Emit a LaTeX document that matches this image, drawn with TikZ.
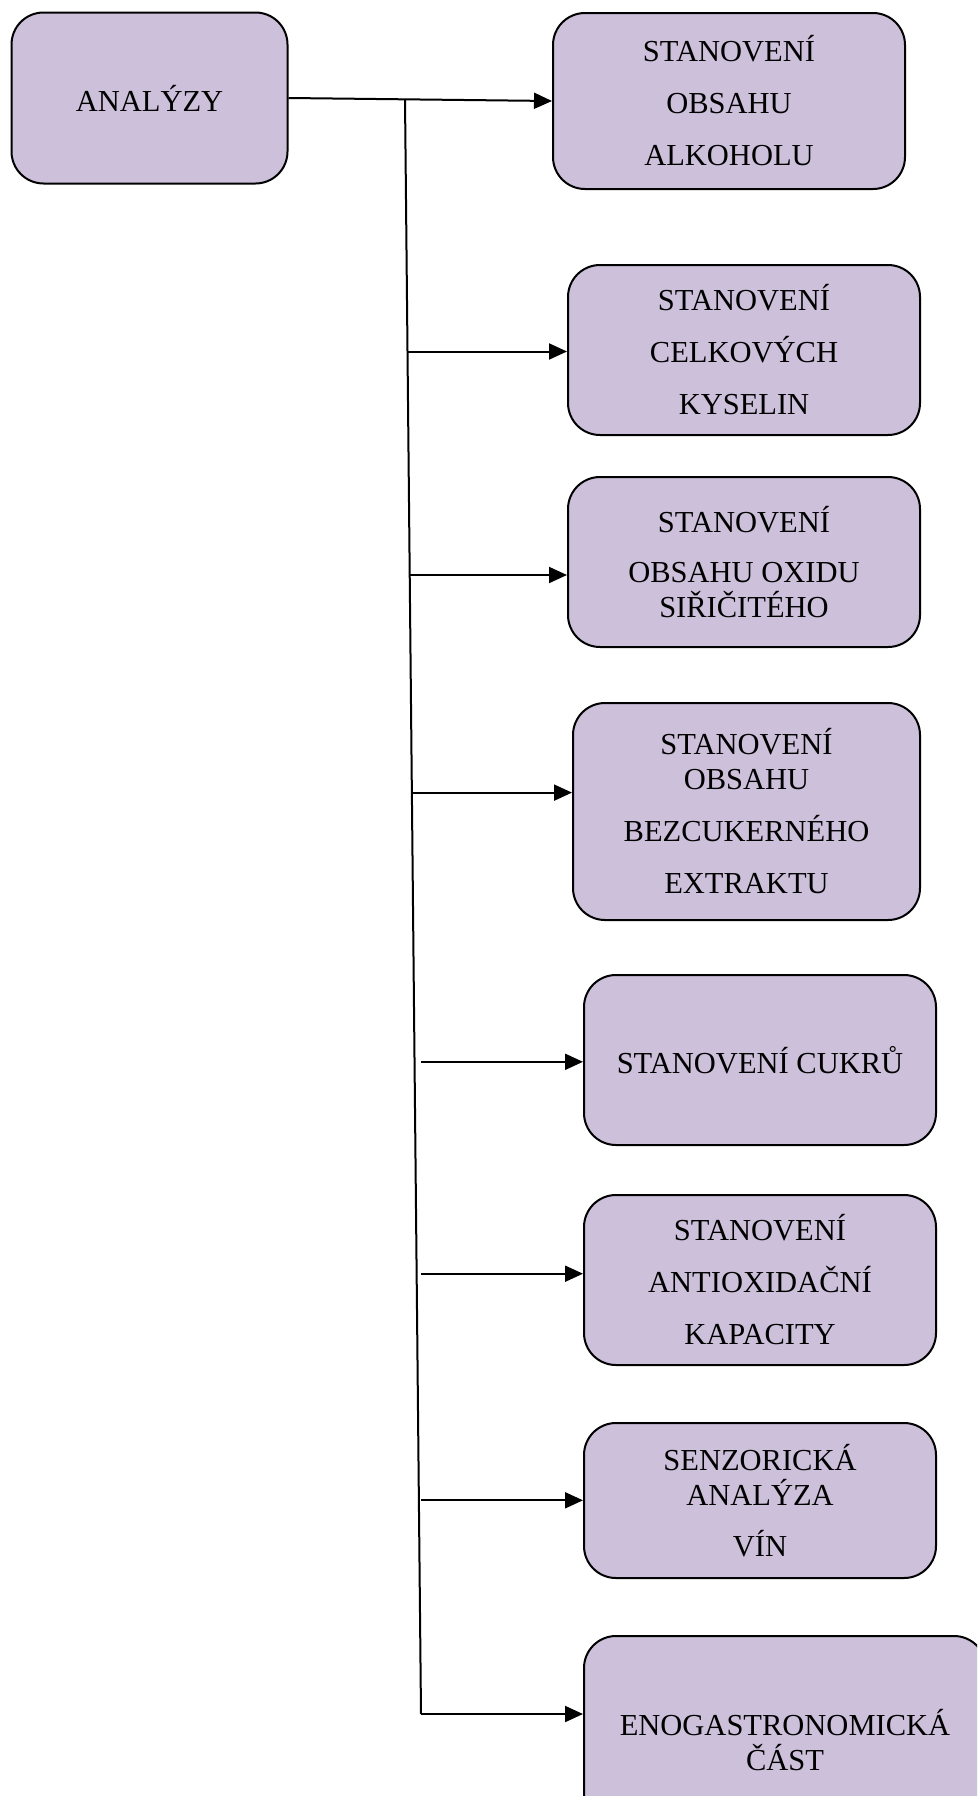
\documentclass[tikz,border=0pt]{standalone}
\usepackage{fontspec}
\setmainfont{Liberation Serif}
\usetikzlibrary{arrows.meta}
\usetikzlibrary{positioning}
\definecolor{boxfill}{RGB}{204,192,218}

\begin{document}
\begin{tikzpicture}[x=1pt,y=-1pt,>={Triangle[length=18pt,width=16pt]},
    box/.style={rectangle,rounded corners=32pt,draw,fill=boxfill,line width=2pt,inner sep=0pt,align=center,font=\fontsize{30.5}{35}\selectfont},
    wire/.style={line width=2pt}]
    \useasboundingbox (0,0) rectangle (977,1796);
    \clip (0,0) rectangle (977,1796);
    \begin{scope}
      \node[box,minimum width=276pt,minimum height=171pt] (analyzy) at (149.5,98) {ANALÝZY};
      \node[box,minimum width=352pt,minimum height=176pt] (alkohol) at (729,101) {STANOVENÍ\\[17pt]OBSAHU\\[17pt]ALKOHOLU};
      \node[box,minimum width=352pt,minimum height=170pt] (kyseliny) at (744,350) {STANOVENÍ\\[17pt]CELKOVÝCH\\[17pt]KYSELIN};
      \node[box,minimum width=352pt,minimum height=170pt] (oxid) at (744,562) {STANOVENÍ\\[15pt]OBSAHU OXIDU\\SIŘIČITÉHO};
      \node[box,minimum width=347pt,minimum height=217pt] (extrakt) at (746.5,811.5) {STANOVENÍ\\OBSAHU\\[17pt]BEZCUKERNÉHO\\[17pt]EXTRAKTU};
      \node[box,minimum width=352pt,minimum height=170pt] (cukry) at (760,1060) {STANOVENÍ CUKRŮ};
      \node[box,minimum width=352pt,minimum height=170pt] (kapacita) at (760,1280) {STANOVENÍ\\[17pt]ANTIOXIDAČNÍ\\[17pt]KAPACITY};
      \node[box,minimum width=352pt,minimum height=155pt] (senzorika) at (760,1500.5) {SENZORICKÁ\\ANALÝZA\\[16pt]VÍN};
      \node[box,minimum width=402pt,minimum height=208pt] (eno) at (785,1740) {ENOGASTRONOMICKÁ\\ČÁST};

      % trunk and branch points
      \coordinate (top) at (405,99);
      \coordinate (bottom) at (421,1714);
      \coordinate (j3) at (408,351.5);
      \coordinate (j4) at (410,575);
      \coordinate (j5) at (411.7,792.6);
      \coordinate (j6) at (421,1061.8);
      \coordinate (j7) at (421,1273.7);
      \coordinate (j8) at (421,1500.3);

      \path[->,wire] (analyzy.east) edge (alkohol.west);
      \path[-,wire] (top) edge (bottom);
      \path[->,wire] (j3) edge (j3 -| kyseliny.west);
      \path[->,wire] (j4) edge (j4 -| oxid.west);
      \path[->,wire] (j5) edge (j5 -| extrakt.west);
      \path[->,wire] (j6) edge (j6 -| cukry.west);
      \path[->,wire] (j7) edge (j7 -| kapacita.west);
      \path[->,wire] (j8) edge (j8 -| senzorika.west);
      \path[->,wire] (bottom) edge (bottom -| eno.west);
    \end{scope}
\end{tikzpicture}
\end{document}
